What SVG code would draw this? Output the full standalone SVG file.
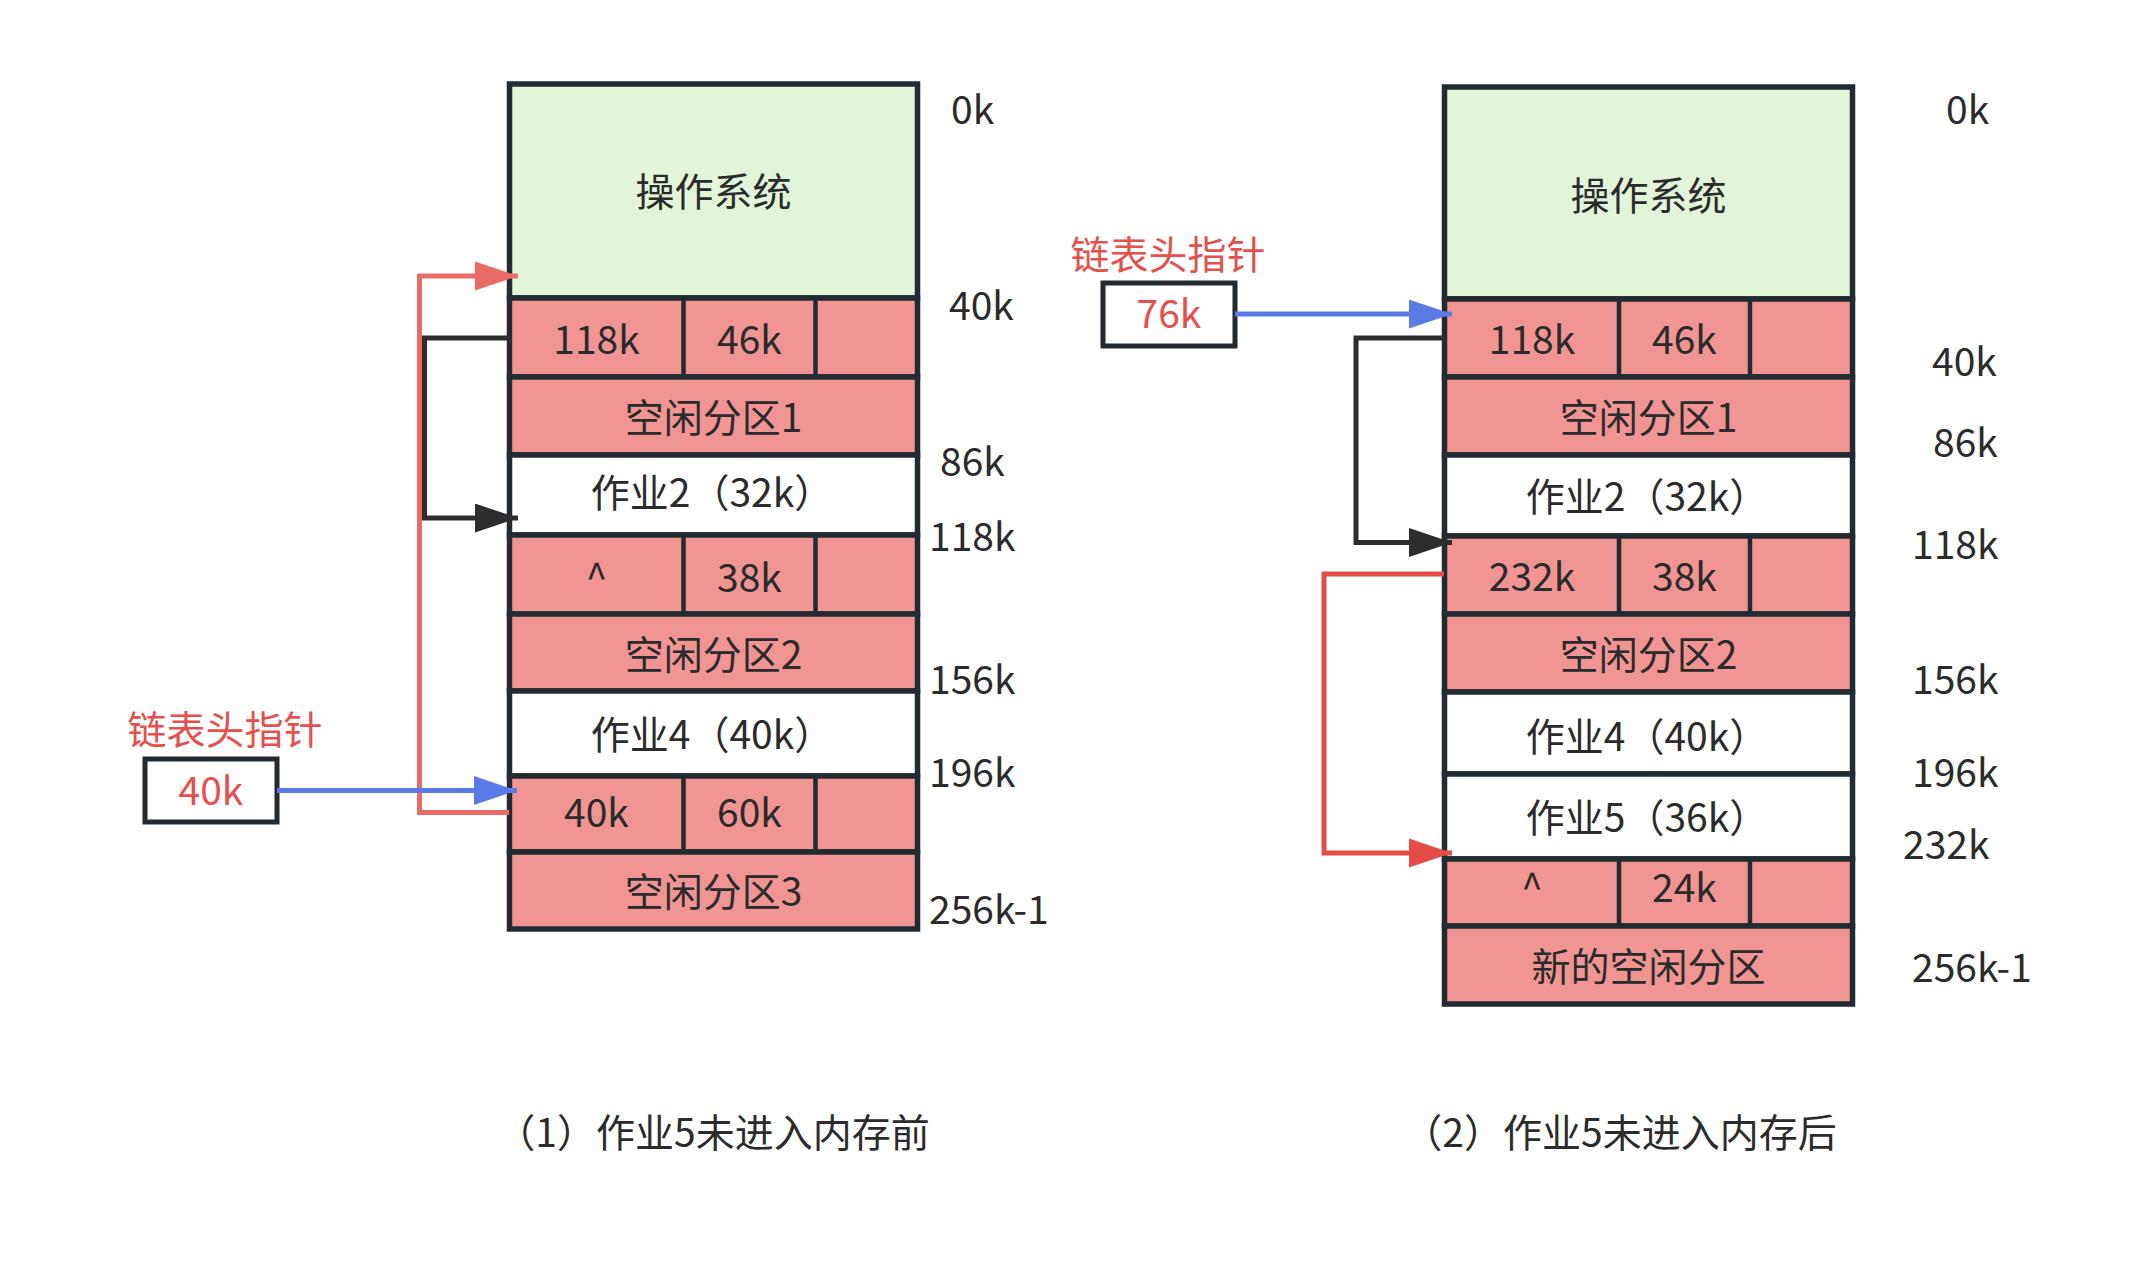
<svg xmlns="http://www.w3.org/2000/svg" width="2131" height="1264" viewBox="0 0 2131 1264">
<style>
text{font-family:"Noto Sans CJK SC","Noto Sans",sans-serif;font-size:39px;fill:#2b2b2b;dominant-baseline:central}
.c{text-anchor:middle}
.red{fill:#e5504c}
.os{fill:#e3f5d9;stroke:#232b32;stroke-width:5.5}
.fr{fill:#f19592;stroke:#232b32;stroke-width:5.5}
.jb{fill:#ffffff;stroke:#232b32;stroke-width:5.5}
.dv{stroke:#232b32;stroke-width:4.5}
.hb{fill:#ffffff;stroke:#232b32;stroke-width:5}
.ln{fill:none;stroke-width:5}
</style>
<defs>
<marker id="aR" markerUnits="userSpaceOnUse" markerWidth="44" markerHeight="29" refX="43" refY="14.5" orient="auto"><path d="M0,0 L43,14.5 L0,29 z" fill="#ea6b66"/></marker>
<marker id="aR2" markerUnits="userSpaceOnUse" markerWidth="44" markerHeight="29" refX="43" refY="14.5" orient="auto"><path d="M0,0 L43,14.5 L0,29 z" fill="#e44c48"/></marker>
<marker id="aB" markerUnits="userSpaceOnUse" markerWidth="44" markerHeight="29" refX="43" refY="14.5" orient="auto"><path d="M0,0 L43,14.5 L0,29 z" fill="#5a7be6"/></marker>
<marker id="aK" markerUnits="userSpaceOnUse" markerWidth="44" markerHeight="29" refX="43" refY="14.5" orient="auto"><path d="M0,0 L43,14.5 L0,29 z" fill="#2d2d2d"/></marker>
</defs>
<rect width="2131" height="1264" fill="#ffffff"/>

<!-- Left memory column -->
<g id="L-os"><rect class="os" x="509.5" y="84" width="408" height="214"/><text class="c" x="713.5" y="189">操作系统</text></g>
<g id="L-p1"><rect class="fr" x="509.5" y="298" width="408" height="79"/><line class="dv" x1="683.5" y1="298" x2="683.5" y2="377"/><line class="dv" x1="815.5" y1="298" x2="815.5" y2="377"/><text class="c" x="596.5" y="337">118k</text><text class="c" x="749.5" y="337">46k</text></g>
<g id="L-f1"><rect class="fr" x="509.5" y="377" width="408" height="78"/><text class="c" x="713.5" y="415">空闲分区1</text></g>
<g id="L-j2"><rect class="jb" x="509.5" y="455" width="408" height="80"/><text class="c" x="712" y="490">作业2（32k）</text></g>
<g id="L-p2"><rect class="fr" x="509.5" y="535" width="408" height="79"/><line class="dv" x1="683.5" y1="535" x2="683.5" y2="614"/><line class="dv" x1="815.5" y1="535" x2="815.5" y2="614"/><text class="c" x="596.5" y="575">^</text><text class="c" x="749.5" y="575">38k</text></g>
<g id="L-f2"><rect class="fr" x="509.5" y="614" width="408" height="77"/><text class="c" x="713.5" y="652">空闲分区2</text></g>
<g id="L-j4"><rect class="jb" x="509.5" y="691" width="408" height="85"/><text class="c" x="712" y="732">作业4（40k）</text></g>
<g id="L-p3"><rect class="fr" x="509.5" y="776" width="408" height="76"/><line class="dv" x1="683.5" y1="776" x2="683.5" y2="852"/><line class="dv" x1="815.5" y1="776" x2="815.5" y2="852"/><text class="c" x="596.5" y="810">40k</text><text class="c" x="749.5" y="810">60k</text></g>
<g id="L-f3"><rect class="fr" x="509.5" y="852" width="408" height="77"/><text class="c" x="713.5" y="889">空闲分区3</text></g>

<g id="L-addr">
<text x="951" y="107">0k</text>
<text x="949" y="303">40k</text>
<text x="940" y="459">86k</text>
<text x="929" y="534">118k</text>
<text x="929" y="677">156k</text>
<text x="929" y="770">196k</text>
<text x="929" y="907">256k-1</text>
</g>

<g id="L-head"><text class="c red" x="225" y="727">链表头指针</text><rect class="hb" x="145" y="759" width="132" height="63"/><text class="c red" x="211" y="788">40k</text></g>

<!-- Right memory column -->
<g id="R-os"><rect class="os" x="1444.5" y="87" width="408" height="212"/><text class="c" x="1648.5" y="193">操作系统</text></g>
<g id="R-p1"><rect class="fr" x="1444.5" y="299" width="408" height="78"/><line class="dv" x1="1619" y1="299" x2="1619" y2="377"/><line class="dv" x1="1750" y1="299" x2="1750" y2="377"/><text class="c" x="1532" y="337">118k</text><text class="c" x="1684.5" y="337">46k</text></g>
<g id="R-f1"><rect class="fr" x="1444.5" y="377" width="408" height="78"/><text class="c" x="1648.5" y="415">空闲分区1</text></g>
<g id="R-j2"><rect class="jb" x="1444.5" y="455" width="408" height="81"/><text class="c" x="1647" y="494">作业2（32k）</text></g>
<g id="R-p2"><rect class="fr" x="1444.5" y="536" width="408" height="78"/><line class="dv" x1="1619" y1="536" x2="1619" y2="614"/><line class="dv" x1="1750" y1="536" x2="1750" y2="614"/><text class="c" x="1532" y="574">232k</text><text class="c" x="1684.5" y="574">38k</text></g>
<g id="R-f2"><rect class="fr" x="1444.5" y="614" width="408" height="78"/><text class="c" x="1648.5" y="652">空闲分区2</text></g>
<g id="R-j4"><rect class="jb" x="1444.5" y="692" width="408" height="82"/><text class="c" x="1647" y="734">作业4（40k）</text></g>
<g id="R-j5"><rect class="jb" x="1444.5" y="774" width="408" height="85"/><text class="c" x="1647" y="815">作业5（36k）</text></g>
<g id="R-p3"><rect class="fr" x="1444.5" y="859" width="408" height="67"/><line class="dv" x1="1619" y1="859" x2="1619" y2="926"/><line class="dv" x1="1750" y1="859" x2="1750" y2="926"/><text class="c" x="1532" y="885">^</text><text class="c" x="1684.5" y="885">24k</text></g>
<g id="R-f3"><rect class="fr" x="1444.5" y="926" width="408" height="78"/><text class="c" x="1648.5" y="964">新的空闲分区</text></g>

<g id="R-addr">
<text x="1946" y="107">0k</text>
<text x="1932" y="359">40k</text>
<text x="1933" y="440">86k</text>
<text x="1912" y="542">118k</text>
<text x="1912" y="677">156k</text>
<text x="1912" y="770">196k</text>
<text x="1903" y="842">232k</text>
<text x="1912" y="965">256k-1</text>
</g>

<g id="R-head"><text class="c red" x="1168" y="252">链表头指针</text><rect class="hb" x="1103" y="283" width="132" height="63"/><text class="c red" x="1169" y="311">76k</text></g>

<!-- Captions -->
<g id="cap1"><text class="c" x="713" y="1130">（1）作业5未进入内存前</text></g>
<g id="cap2"><text class="c" x="1620" y="1130">（2）作业5未进入内存后</text></g>

<!-- Connectors -->
<g id="connectors">
<path class="ln" stroke="#2d2d2d" d="M509,338 H424.5 V518 H518" marker-end="url(#aK)"/>
<path class="ln" stroke="#ea6b66" d="M509,812.5 H419.5 V276 H518" marker-end="url(#aR)"/>
<path class="ln" stroke="#5a7be6" d="M277,790.5 H517" marker-end="url(#aB)"/>
<path class="ln" stroke="#5a7be6" d="M1235,314 H1452" marker-end="url(#aB)"/>
<path class="ln" stroke="#2d2d2d" d="M1444,338 H1356 V542.5 H1452" marker-end="url(#aK)"/>
<path class="ln" stroke="#e44c48" d="M1444,574 H1324 V853 H1452" marker-end="url(#aR2)"/>
</g>
</svg>
